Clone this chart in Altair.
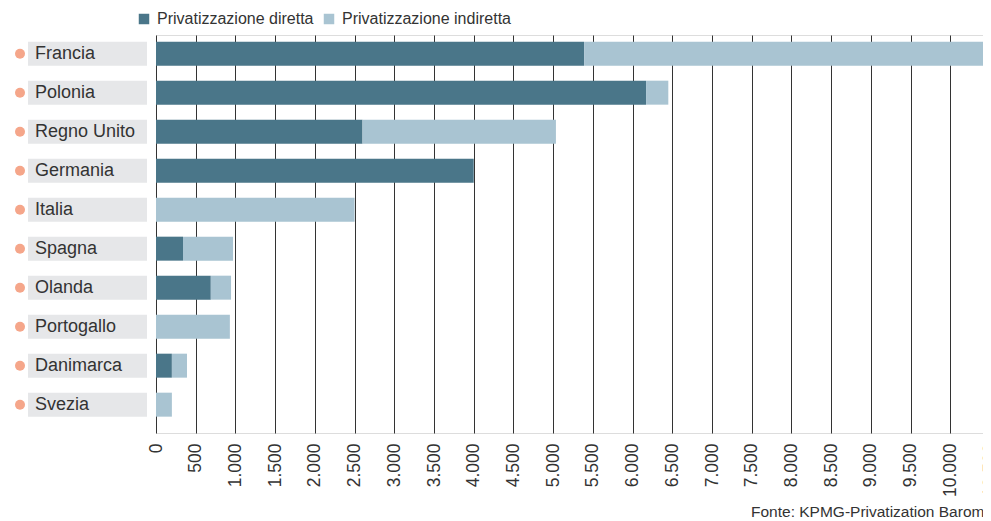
import altair as alt
import pandas as pd

countries = ["Francia", "Polonia", "Regno Unito", "Germania", "Italia",
             "Spagna", "Olanda", "Portogallo", "Danimarca", "Svezia"]
diretta = [5390, 6170, 2600, 4000, 0, 340, 690, 0, 200, 0]
indiretta = [5030, 280, 2435, 0, 2500, 630, 255, 930, 190, 200]
series = ["Privatizzazione diretta", "Privatizzazione indiretta"]
colors = ["#4a7689", "#a9c4d2"]
x_ticks = list(range(0, 10501, 500))
source = "Fonte: KPMG-Privatization Barometer"

rows = []
for c, d, i in zip(countries, diretta, indiretta):
    if d > 0:
        rows.append({"country": c, "tipo": series[0], "valore": d, "ord": 0})
    if i > 0:
        rows.append({"country": c, "tipo": series[1], "valore": i, "ord": 1})
df = pd.DataFrame(rows)
labels_df = pd.DataFrame({"country": countries})
src_df = pd.DataFrame({"t": [source]})

FONT = "Liberation Sans"

yenc = alt.Y("country:N", sort=countries, axis=None,
             scale=alt.Scale(paddingInner=0.385, paddingOuter=0.295, align=0.29))

bars = alt.Chart(df).mark_bar().encode(
    x=alt.X("valore:Q", stack="zero",
            scale=alt.Scale(domain=[0, 10500], nice=False),
            axis=alt.Axis(values=x_ticks, title=None, labelAngle=-90,
                          labelAlign="right", labelBaseline="middle",
                          labelFontSize=17.5, labelColor="#333333", labelFont=FONT,
                          labelPadding=10, ticks=False, domain=False,
                          grid=True, gridColor="#333333", gridWidth=1,
                          labelExpr="replace(format(datum.value, ','), ',', '.')")),
    y=yenc,
    color=alt.Color("tipo:N", scale=alt.Scale(domain=series, range=colors),
                    legend=alt.Legend(title=None, orient="none", legendX=-20, legendY=-24,
                                      direction="horizontal", symbolType="square",
                                      symbolSize=110, symbolStrokeWidth=0,
                                      labelFontSize=16, labelFont=FONT, labelLimit=0,
                                      labelColor="#333333", columnPadding=7,
                                      labelOffset=5, padding=0)),
    order=alt.Order("ord:Q"),
)

boxes = alt.Chart(labels_df).mark_bar(color="#e6e7e9").encode(
    x=alt.value(-128), x2=alt.value(-9), y=yenc)

texts = alt.Chart(labels_df).mark_text(align="left", baseline="middle", fontSize=18,
                                       font=FONT, color="#333333").encode(
    x=alt.value(-121), y=yenc, text="country:N")

dots = alt.Chart(labels_df).mark_circle(color="#f5a68a", opacity=1, size=100).encode(
    x=alt.value(-136), y=yenc)

src = alt.Chart(src_df).mark_text(align="left", baseline="alphabetic", fontSize=15.5,
                                  font=FONT, color="#333333").encode(
    x=alt.value(595), y=alt.value(482), text="t:N")

chart = alt.layer(bars, boxes, texts, dots, src).properties(
    width=834, height=398,
    autosize=alt.AutoSizeParams(type="none"),
    padding={"left": 148, "top": 27, "right": -7, "bottom": 88},
).configure_view(stroke=None).configure(font=FONT)

chart.save("out.html", embed_options={"renderer": "svg", "actions": False})
